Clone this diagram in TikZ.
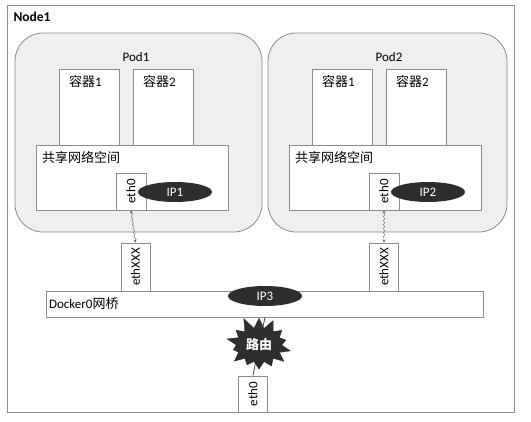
\documentclass[tikz,border=0pt]{standalone}
\usepackage{fontspec}
\setmainfont{Carlito}
\newfontfamily\cjk{Noto Sans CJK SC}
\usetikzlibrary{shapes, shapes.symbols, positioning, decorations.pathmorphing}
\definecolor{lineg}{HTML}{8C8C8C}
\definecolor{podg}{HTML}{EFEFEF}
\definecolor{ipdark}{HTML}{2E2E2E}
\tikzset{
        hostbox/.style = {draw=lineg, thick},
        pod/.style = {draw=lineg, fill=podg, thick, rounded corners=28pt},
        box/.style = {draw=lineg, fill=white, thick, rectangle},
        ctr/.style = {box, minimum width=60pt, minimum height=76pt},
        port/.style = {box, rotate=90, inner sep=1pt},
        ip/.style = {ellipse, fill=ipdark, text=white, inner sep=0pt,
            minimum width=74pt, minimum height=20pt},
        wire/.style = {draw=black!75, thick},
        link/.style = {draw=black!60, <->, >=stealth, decorate,
            decoration={snake, amplitude=.7pt, segment length=4pt,
              pre length=3pt, post length=3pt}},
        router/.style = {starburst, fill=ipdark, draw=ipdark, text=white,
            starburst points=14, starburst point height=13pt,
            random starburst=11, minimum width=68pt, minimum height=60pt,
            inner sep=3pt},
}

\begin{document}
\begin{tikzpicture}[x=1pt, y=-1pt, font=\fontsize{13}{15}\selectfont]
\useasboundingbox (0,0) rectangle (531,422);
% host
\draw [hostbox] (7,5) rectangle (514,412);
\node [anchor=west, font=\fontsize{13.5}{15}\bfseries\selectfont] (node1) at (10,17) {Node1};

% two pods
\foreach \i/\x/\w/\e in {1/0/247/135.5, 2/253/239/384} {
  \draw [pod] (15+\x,33) rectangle ++(\w,199);
  \node (podlabel\i) at (136+\x,57) {Pod\i};
  \node [ctr, label={[anchor=north, xshift=-4pt, yshift=-3pt]north:{\cjk 容器}1}] (c\i a) at (89.5+\x,107) {};
  \node [ctr, label={[anchor=north, xshift=-4pt, yshift=-3pt]north:{\cjk 容器}2}] (c\i b) at (163.5+\x,107) {};
  \node [box, minimum width=192pt, minimum height=65pt,
         label={[anchor=north west, xshift=3pt, yshift=-3pt]north west:{\cjk 共享网络空间}}]
         (net\i) at (132+\x,177.5) {};
  \node [port, minimum width=37pt, minimum height=30pt] (eth\i) at (131+\x,191.5) {eth0};
  \node [ip] (ip\i) at (175+\x,192) {IP\i};
  \node [port, minimum width=48pt, minimum height=29pt] (ethx\i) at (\e,267) {ethXXX};
  \draw [link] (eth\i.west) -- (ethx\i.east);
}

% bridge and router
\node [box, minimum width=437pt, minimum height=26pt] (bridge) at (264.5,304) {};
\node [anchor=west] (brlabel) at (bridge.west) {Docker0{\cjk 网桥}};
\node [ip] (ip3) at (265,296) {IP3};
\node [port, minimum width=36pt, minimum height=29pt] (eth0) at (253,394) {eth0};
\node [router] (route) at (259,345) {\cjk\bfseries 路由};
\draw [wire] (ip3 |- bridge.south) -- (route);
\draw [wire] (route) -- (eth0.east);
\end{tikzpicture}
\end{document}
